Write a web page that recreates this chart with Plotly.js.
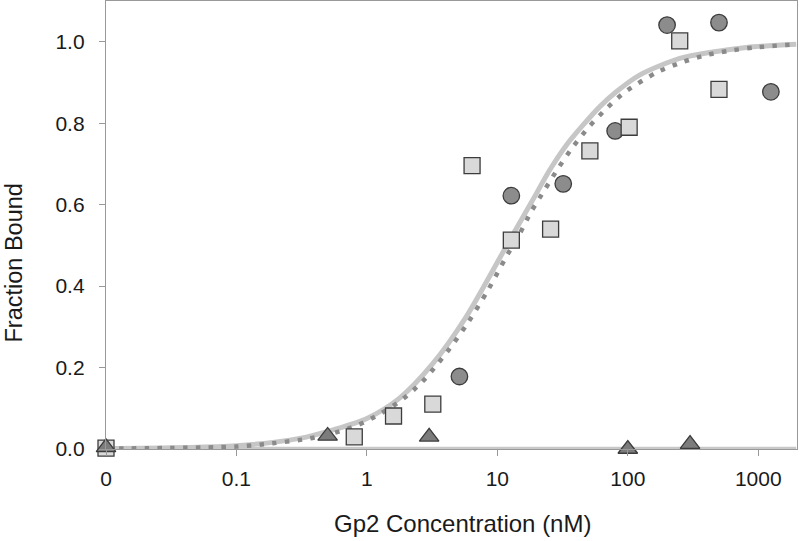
<!DOCTYPE html>
<html>
<head>
<meta charset="utf-8">
<script src="https://cdn.plot.ly/plotly-3.0.1.min.js"></script>
<style>html,body{margin:0;padding:0;background:#fff;}#chart{width:800px;height:541px;}</style>
</head>
<body>
<div id="chart"></div>
<script>
// X tick labels (the "0" concentration is drawn at 0.01 on the log axis)
const tickVals = [0.01, 0.1, 1, 10, 100, 1000];
const tickText = ["0", "0.1", "1", "10", "100", "1000"];
const yTickVals = [0, 0.2, 0.4, 0.6, 0.8, 1.0];

// Circles
const circleX = [5.12, 12.8, 32, 80, 200, 500, 1250];
const circleY = [0.178, 0.622, 0.651, 0.781, 1.041, 1.047, 0.877];

// Squares
const squareX = [0.01, 0.8, 1.6, 3.2, 6.4, 12.8, 25.6, 51.2, 102.4, 250, 500];
const squareY = [0.002, 0.030, 0.081, 0.110, 0.696, 0.513, 0.540, 0.732, 0.790, 1.002, 0.883];

// Triangles
const triX = [0.01, 0.5, 3, 100, 300];
const triY = [0.004, 0.032, 0.030, 0.0, 0.012];

// Solid fit curve
const solidX = [0.01, 0.1, 0.305, 0.55, 1, 1.78, 3.21, 5.78, 12.8, 18.2, 25.2, 33.8, 45.3, 60.8, 81.6, 123, 250, 449, 809, 1954];
const solidY = [0.001, 0.008, 0.026, 0.047, 0.075, 0.125, 0.21, 0.325, 0.52, 0.605, 0.685, 0.746, 0.795, 0.840, 0.877, 0.918, 0.959, 0.975, 0.986, 0.994];

// Dotted fit curve
const dotX = [0.01, 0.1, 0.189, 0.365, 0.566, 0.855, 1.29, 1.89, 2.62, 3.51, 4.63, 5.95, 8.47, 11.7, 14.8, 18.2, 23.0, 29.1, 37.6, 50.1, 67.6, 94.6, 170, 257, 395, 603, 953, 1954];
const dotY = [0.001, 0.006, 0.014, 0.026, 0.040, 0.059, 0.088, 0.123, 0.163, 0.210, 0.260, 0.310, 0.390, 0.472, 0.528, 0.583, 0.636, 0.688, 0.740, 0.790, 0.834, 0.876, 0.926, 0.949, 0.967, 0.978, 0.986, 0.994];

// Flat fit for the non-binding series
const flatX = [0.01, 1954];
const flatY = [0, 0];

const xTitle = 'Gp2 Concentration (nM)';
const yTitle = 'Fraction Bound';

const FONT = '"Liberation Sans", Arial, sans-serif';

const traces = [
  {x: flatX, y: flatY, type: 'scatter', mode: 'lines', line: {color: '#c8c8c8', width: 4.5}, cliponaxis: false, hoverinfo: 'skip'},
  {x: solidX, y: solidY, type: 'scatter', mode: 'lines', line: {color: '#c6c6c6', width: 5, shape: 'spline', smoothing: 0.8}, hoverinfo: 'skip'},
  {x: dotX, y: dotY, type: 'scatter', mode: 'lines', line: {color: '#8a8a8a', width: 4.5, dash: '4.5px,8.3px', shape: 'spline', smoothing: 0.8}, hoverinfo: 'skip'},
  {x: circleX, y: circleY, type: 'scatter', mode: 'markers', cliponaxis: false,
   marker: {symbol: 'circle', size: 16.5, color: '#8c8c8c', line: {color: '#3c3c3c', width: 1.3}}},
  {x: squareX, y: squareY, type: 'scatter', mode: 'markers', cliponaxis: false,
   marker: {symbol: 'square', size: 16, color: '#d9d9d9', line: {color: '#3c3c3c', width: 1.3}}},
  {x: triX, y: triY, type: 'scatter', mode: 'markers', cliponaxis: false,
   marker: {symbol: 'triangle-up', size: 17, color: '#7c7c7c', line: {color: '#3c3c3c', width: 1.3}}}
];

const layout = {
  width: 800, height: 541,
  margin: {l: 106, r: 3, t: 1, b: 92},
  paper_bgcolor: '#ffffff', plot_bgcolor: '#ffffff',
  showlegend: false,
  font: {family: FONT, color: '#1a1a1a'},
  xaxis: {
    type: 'log', range: [-2, 3.297],
    tickmode: 'array', tickvals: tickVals, ticktext: tickText,
    ticks: 'outside', ticklen: 6, tickcolor: '#999999', tickwidth: 1,
    showline: true, linecolor: '#999999', linewidth: 1, mirror: true,
    showgrid: false, zeroline: false,
    tickfont: {family: FONT, size: 21, color: '#1a1a1a'},
    ticklabelstandoff: 5
  },
  yaxis: {
    range: [0, 1.1], tickmode: 'array', tickvals: yTickVals,
    tickformat: '.1f',
    ticks: 'outside', ticklen: 6, tickcolor: '#999999', tickwidth: 1,
    showline: true, linecolor: '#999999', linewidth: 1.2, mirror: true,
    showgrid: false, zeroline: false,
    tickfont: {family: FONT, size: 21, color: '#1a1a1a'},
    ticklabelstandoff: 10
  },
  annotations: [
    {text: xTitle, xref: 'paper', yref: 'paper', x: 0.5166, y: -0.167, xanchor: 'center', yanchor: 'middle',
     showarrow: false, font: {family: FONT, size: 24, color: '#1a1a1a'}},
    {text: yTitle, xref: 'paper', yref: 'paper', x: -0.1325, y: 0.415, xanchor: 'center', yanchor: 'middle',
     textangle: -90, showarrow: false, font: {family: FONT, size: 23.5, color: '#1a1a1a'}}
  ]
};

Plotly.newPlot('chart', traces, layout, {staticPlot: true, displayModeBar: false});
</script>
</body>
</html>
